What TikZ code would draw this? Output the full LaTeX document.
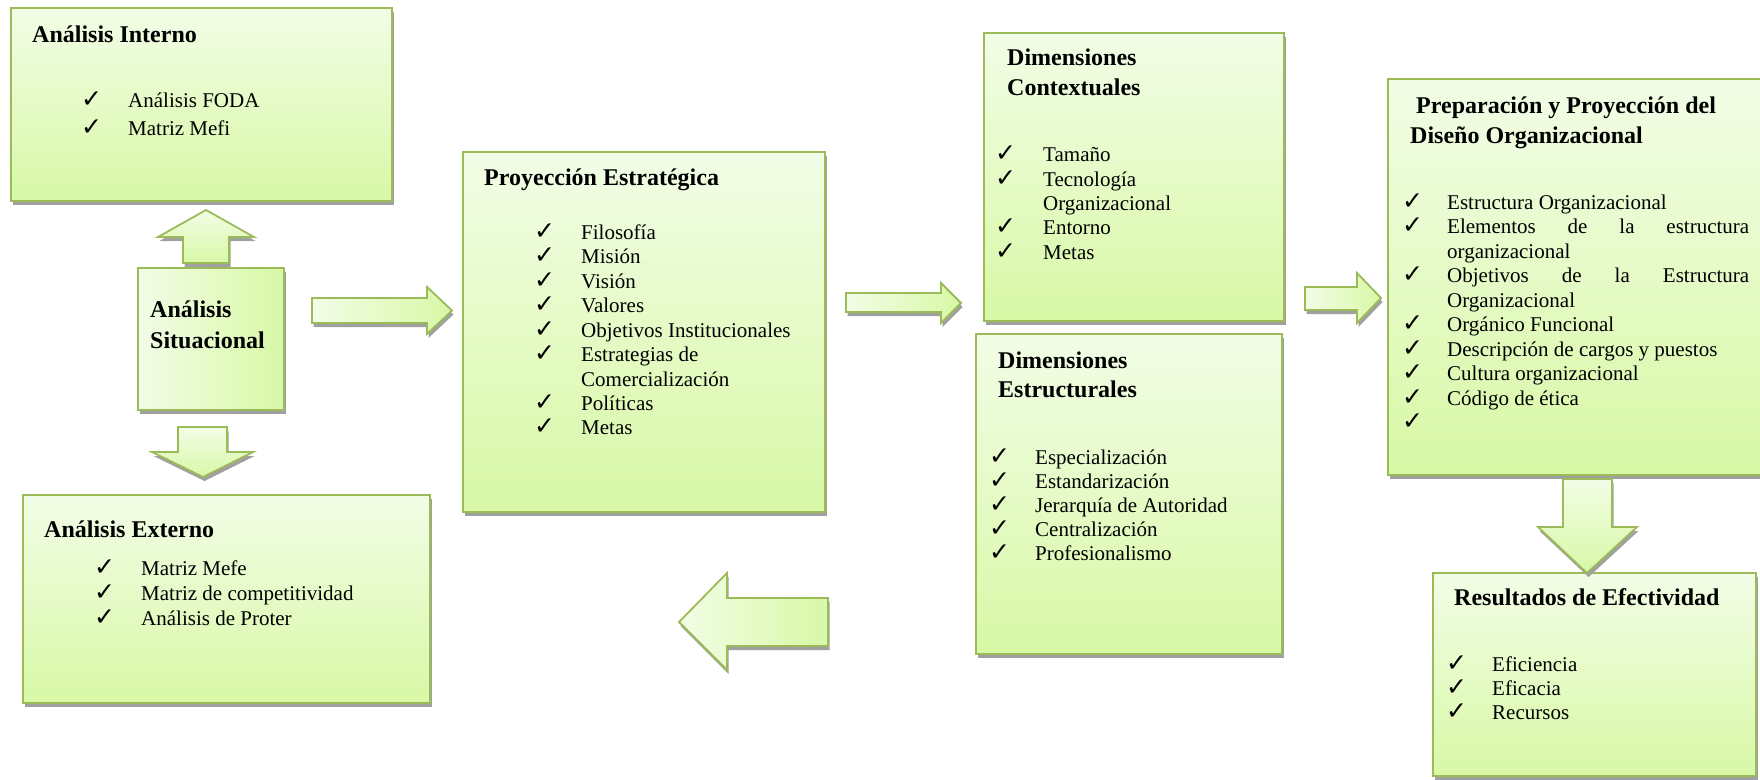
\documentclass[tikz,border=0pt]{standalone}
\usepackage{fontspec}
\setmainfont{Liberation Serif}
\newfontfamily\chkfont{DejaVu Sans}
\usetikzlibrary{shadows}
\definecolor{bord}{HTML}{9BBB59}
\definecolor{gtop}{RGB}{242,253,230}
\definecolor{gbot}{RGB}{216,248,166}
\definecolor{shad}{RGB}{160,160,160}
\tikzset{
  shad/.style={drop shadow={shadow xshift=1.5pt, shadow yshift=-4pt, fill=shad, opacity=1}},
  box/.style={draw=bord, line width=1.8pt, top color=gtop, bottom color=gbot,
    anchor=north west, inner sep=0pt, outer sep=0pt, shad},
  sidebox/.style={draw=bord, line width=1.8pt, left color=gtop, right color=gbot,
    anchor=north west, inner sep=0pt, outer sep=0pt, shad},
  blockarrow/.style={draw=bord, line width=1.8pt, line join=miter, left color=gtop, right color=gbot, shad},
  blockarrowv/.style={draw=bord, line width=1.8pt, line join=miter, top color=gtop, bottom color=gbot, shad},
  ttl/.style={anchor=base west, inner sep=0pt, font=\fontsize{24}{28}\selectfont\bfseries},
  itm/.style={anchor=base west, inner sep=0pt, font=\fontsize{21}{24}\selectfont},
  chk/.style={anchor=base west, inner sep=0pt, font=\chkfont\fontsize{25}{28}\selectfont},
}
% one checked list entry: name, check x, text x, baseline y, text
\newcommand\ckitem[5]{%
  \node[chk] (#1c) at (#2,#4) {✓};
  \node[itm] (#1) at (#3,#4) {#5};}
\begin{document}
\begin{tikzpicture}[x=1pt,y=-1pt]
\useasboundingbox (0,0) rectangle (1760,779);

% boxes
\node[box, minimum width=381pt, minimum height=193pt] (int) at (11,8) {};
\node[sidebox, minimum width=146pt, minimum height=142pt] (sit) at (138,268) {};
\node[box, minimum width=407pt, minimum height=208pt] (ext) at (23,495) {};
\node[box, minimum width=362pt, minimum height=360pt] (proy) at (463,152) {};
\node[box, minimum width=300pt, minimum height=288pt] (ctx) at (984,33) {};
\node[box, minimum width=306pt, minimum height=320pt] (est) at (976,334) {};
\node[box, minimum width=380pt, minimum height=396pt] (prep) at (1388,79) {};
\node[box, minimum width=323pt, minimum height=203pt] (res) at (1433,573) {};

% block arrows
\path[blockarrowv] (183,263) -- (183,237) -- (158,237) -- (206,210) -- (254,237) -- (229,237) -- (229,263) -- cycle;
\path[blockarrowv] (178,427) -- (227,427) -- (227,452) -- (253,452) -- (203,477) -- (152,452) -- (178,452) -- cycle;
\path[blockarrow] (312,298) -- (427,298) -- (427,287) -- (452,310.5) -- (427,334) -- (427,323) -- (312,323) -- cycle;
\path[blockarrow] (846,293) -- (941,293) -- (941,283) -- (961,303) -- (941,323) -- (941,312) -- (846,312) -- cycle;
\path[blockarrow] (1305,287) -- (1357,287) -- (1357,273) -- (1381,298) -- (1357,323) -- (1357,310) -- (1305,310) -- cycle;
\path[blockarrow] (828,598) -- (727,598) -- (727,573) -- (679,622) -- (727,670) -- (727,646) -- (828,646) -- cycle;
\path[blockarrowv] (1563,479) -- (1612,479) -- (1612,527) -- (1637,527) -- (1587,573) -- (1538,527) -- (1563,527) -- cycle;

% Análisis Interno
\node[ttl] (intT) at (32,42) {Análisis Interno};
\ckitem{i1}{81}{128}{107}{Análisis FODA}
\ckitem{i2}{81}{128}{135}{Matriz Mefi}

% Análisis Situacional
\node[ttl] (sitT1) at (150,317) {Análisis};
\node[ttl] (sitT2) at (150,348) {Situacional};

% Análisis Externo
\node[ttl] (extT) at (44,537) {Análisis Externo};
\ckitem{e1}{94}{141}{575}{Matriz Mefe}
\ckitem{e2}{94}{141}{600}{Matriz de competitividad}
\ckitem{e3}{94}{141}{625}{Análisis de Proter}

% Proyección Estratégica
\node[ttl] (proyT) at (484,185) {Proyección Estratégica};
\ckitem{p1}{534}{581}{239.3}{Filosofía}
\ckitem{p2}{534}{581}{263.8}{Misión}
\ckitem{p3}{534}{581}{288.2}{Visión}
\ckitem{p4}{534}{581}{312.7}{Valores}
\ckitem{p5}{534}{581}{337.1}{Objetivos Institucionales}
\ckitem{p6}{534}{581}{361.6}{Estrategias de}
\node[itm] (p6b) at (581,386.0) {Comercialización};
\ckitem{p7}{534}{581}{410.5}{Políticas}
\ckitem{p8}{534}{581}{434.9}{Metas}

% Dimensiones Contextuales
\node[ttl] (ctxT1) at (1007,65) {Dimensiones};
\node[ttl] (ctxT2) at (1007,95) {Contextuales};
\ckitem{c1}{995}{1043}{161.7}{Tamaño}
\ckitem{c2}{995}{1043}{186.1}{Tecnología}
\node[itm] (c2b) at (1043,210.5) {Organizacional};
\ckitem{c3}{995}{1043}{234.9}{Entorno}
\ckitem{c4}{995}{1043}{259.3}{Metas}

% Dimensiones Estructurales
\node[ttl] (estT1) at (998,368) {Dimensiones};
\node[ttl] (estT2) at (998,397) {Estructurales};
\ckitem{s1}{989}{1035}{464}{Especialización}
\ckitem{s2}{989}{1035}{488.2}{Estandarización}
\ckitem{s3}{989}{1035}{512.4}{Jerarquía de Autoridad}
\ckitem{s4}{989}{1035}{536.6}{Centralización}
\ckitem{s5}{989}{1035}{560.8}{Profesionalismo}

% Preparación y Proyección del Diseño Organizacional
\node[ttl] (prepT1) at (1416,113) {Preparación y Proyección del};
\node[ttl] (prepT2) at (1410,143) {Diseño Organizacional};
\ckitem{r1}{1402}{1447}{209.3}{Estructura Organizacional}
\ckitem{r2}{1402}{1447}{233.8}{\makebox[302pt][s]{Elementos de la estructura}}
\node[itm] (r2b) at (1447,258.3) {organizacional};
\ckitem{r3}{1402}{1447}{282.8}{\makebox[302pt][s]{Objetivos de la Estructura}}
\node[itm] (r3b) at (1447,307.3) {Organizacional};
\ckitem{r4}{1402}{1447}{331.8}{Orgánico Funcional}
\ckitem{r5}{1402}{1447}{356.3}{Descripción de cargos y puestos}
\ckitem{r6}{1402}{1447}{380.8}{Cultura organizacional}
\ckitem{r7}{1402}{1447}{405.3}{Código de ética}
\node[chk] (r8c) at (1402,429.8) {✓};

% Resultados de Efectividad
\node[ttl] (resT) at (1454,605) {Resultados de Efectividad};
\ckitem{f1}{1446}{1492}{671}{Eficiencia}
\ckitem{f2}{1446}{1492}{695}{Eficacia}
\ckitem{f3}{1446}{1492}{719}{Recursos}
\end{tikzpicture}
\end{document}
